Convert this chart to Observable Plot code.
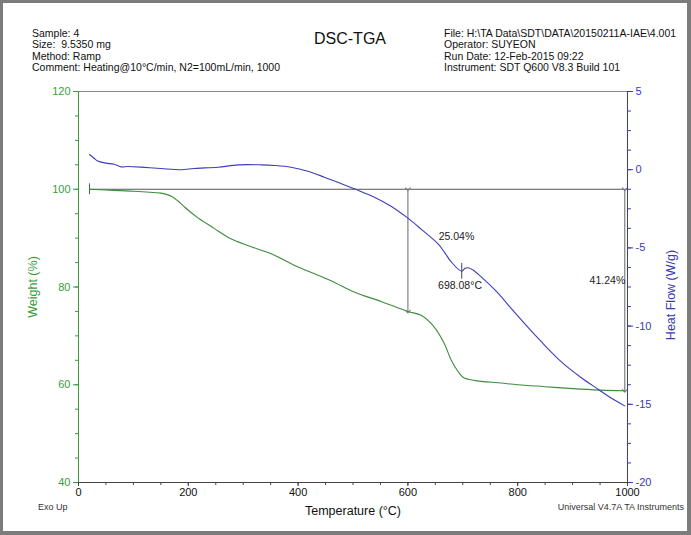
<!DOCTYPE html>
<html><head><meta charset="utf-8">
<script src="https://cdn.jsdelivr.net/npm/d3@7"></script>
<script src="https://cdn.jsdelivr.net/npm/@observablehq/plot@0.6"></script>
<style>
body{margin:0;background:#fff;}
#page{position:relative;width:691px;height:535px;font-family:Arial,"Liberation Sans",sans-serif;overflow:hidden;background:#fff;}
#frame{position:absolute;left:0;top:0;width:691px;height:535px;box-sizing:border-box;border:3px solid #7c7c7c;border-right-width:4px;border-bottom-width:4px;pointer-events:none;}
.t{position:absolute;white-space:pre;color:#111;}
.hdr{font-size:10.5px;line-height:11.4px;}
.layer{position:absolute;left:0;top:0;}
</style></head>
<body><div id="page">
<div id="hdrL" class="t hdr" style="left:32px;top:28px;"></div>
<div id="hdrR" class="t hdr" style="left:444px;top:28px;"></div>
<div id="title" class="t" style="left:0;width:700px;text-align:center;top:30px;font-size:16px;"></div>
<div class="t" style="left:38px;top:502px;font-size:9px;color:#333;">Exo Up</div>
<div class="t" style="right:7px;top:502px;font-size:9px;color:#333;">Universal V4.7A TA Instruments</div>
<div id="p1" class="layer"></div>
<div id="p2" class="layer"></div>
<div id="frame"></div>
</div>
<script>
// ---- header text ----
const titleText = "DSC-TGA";
const headerLeft = ["Sample: 4", "Size:  9.5350 mg", "Method: Ramp", "Comment: Heating@10°C/min, N2=100mL/min, 1000"];
const headerRight = ["File: H:\\TA Data\\SDT\\DATA\\20150211A-IAE\\4.001", "Operator: SUYEON", "Run Date: 12-Feb-2015 09:22", "Instrument: SDT Q600 V8.3 Build 101"];

// ---- TGA weight curve (Weight %, left axis) ----
const tempW  = [20, 50, 100, 150, 160, 170, 180, 190, 200, 217, 247, 272, 308, 351, 400, 460, 502, 552, 600, 624, 648, 666, 679, 692, 701, 721, 770, 800, 850, 900, 950, 995];
const weight = [100, 99.85, 99.6, 99.2, 98.95, 98.5, 97.7, 96.7, 95.7, 94.2, 92.0, 90.2, 88.5, 86.8, 84.1, 81.3, 79.0, 77.0, 75.0, 74.2, 71.8, 68.5, 65.0, 62.6, 61.5, 60.9, 60.35, 60.0, 59.6, 59.2, 58.9, 58.76];

// ---- DSC heat flow curve (W/g, right axis) ----
const tempH = [20, 28, 35, 50, 65, 78, 90, 120, 150, 187, 211, 254, 291, 333, 357, 387, 418, 448, 479, 506, 539, 570, 600, 624, 655, 667, 679, 698, 704, 710, 720, 734, 765, 794, 843, 880, 916, 947, 970, 995];
const heat  = [0.97, 0.75, 0.55, 0.42, 0.35, 0.18, 0.2, 0.15, 0.08, 0.0, 0.08, 0.16, 0.31, 0.31, 0.27, 0.16, -0.1, -0.48, -0.9, -1.27, -1.76, -2.35, -3.1, -3.8, -4.75, -5.3, -5.9, -6.49, -6.3, -6.27, -6.45, -6.87, -7.92, -9.11, -11.0, -12.3, -13.3, -14.05, -14.6, -15.1];

// ---- annotations ----
const lossTemps = [600, 995];
const lossPct = [25.04, 41.24];
const peakTemp = 698.08;

// ---- axis ticks ----
const xMajor = [0, 200, 400, 600, 800, 1000];
const xMinor = d3.range(0, 1001, 50);
const wMajor = [40, 60, 80, 100, 120];
const wMinor = d3.range(40, 121, 5);
const hMajor = [-20, -15, -10, -5, 0, 5];
const hMinor = d3.range(-20, 5.01, 1.25);

const GREEN_AX = "#3c9c3c", GREEN = "#3f8c3f";
const BLUE_AX = "#3a3ab4", BLUE = "#3d3dbd";

document.getElementById("hdrL").textContent = headerLeft.join("\n");
document.getElementById("hdrR").textContent = headerRight.join("\n");
document.getElementById("title").textContent = titleText;

const dims = {width: 691, height: 535, marginLeft: 78, marginRight: 64, marginTop: 91, marginBottom: 53};
const wData = tempW.map((t, i) => ({t, v: weight[i]}));
const hData = tempH.map((t, i) => ({t, v: heat[i]}));
const losses = lossTemps.map((t, i) => ({t, pct: lossPct[i], from: 100, to: 100 - lossPct[i]}));

const p1 = Plot.plot({
  ...dims,
  style: {background: "transparent", fontFamily: "Arial, 'Liberation Sans', sans-serif", overflow: "visible"},
  x: {domain: [0, 1000]},
  y: {domain: [40, 120]},
  marks: [
    Plot.ruleY([120], {stroke: "#8a8a8a"}),
    Plot.ruleY([40], {stroke: "#444"}),
    Plot.ruleX([0], {stroke: GREEN_AX}),
    Plot.axisY({ticks: wMinor, tickSize: 3, tickFormat: () => "", stroke: GREEN_AX, label: null}),
    Plot.axisY({ticks: wMajor, tickSize: 5, tickPadding: 3, fontSize: 11, stroke: GREEN_AX, fill: GREEN_AX, tickFormat: d => String(d), label: null}),
    Plot.axisX({ticks: xMinor, tickSize: 3, tickFormat: () => "", stroke: "#444", label: null}),
    Plot.axisX({ticks: xMajor, tickSize: 4, tickPadding: 2, fontSize: 11, stroke: "#444", fill: "#111", tickFormat: d => String(d), label: null}),
    Plot.ruleY([100], {x1: tempW[0], x2: 1000, stroke: "#555"}),
    Plot.ruleX([tempW[0]], {y1: 98.9, y2: 101.1, stroke: "#555"}),
    Plot.link(losses, {x1: "t", x2: "t", y1: "from", y2: "to", stroke: "#808080", strokeWidth: 1.2, markerStart: "arrow", markerEnd: "arrow"}),
    Plot.line(wData, {x: "t", y: "v", stroke: GREEN, strokeWidth: 1.1, curve: "catmull-rom"}),
    Plot.text(losses, {x: d => d.t === 600 ? 656 : 931, y: d => d.t === 600 ? 90.4 : 81.3, text: d => d.pct.toFixed(2) + "%", textAnchor: "start", fontSize: 10.5, fill: "#222"}),
    Plot.text(["Weight (%)"], {frameAnchor: "left", dx: -46, rotate: -90, textAnchor: "middle", fontSize: 12.5, fill: GREEN_AX}),
    Plot.text(["Temperature (°C)"], {frameAnchor: "bottom", dy: 32, textAnchor: "middle", fontSize: 12.5, fill: "#111"})
  ]
});
document.getElementById("p1").appendChild(p1);

const p2 = Plot.plot({
  ...dims,
  style: {background: "transparent", fontFamily: "Arial, 'Liberation Sans', sans-serif", overflow: "visible"},
  x: {domain: [0, 1000], axis: null},
  y: {domain: [-20, 5]},
  marks: [
    Plot.ruleX([1000], {stroke: BLUE_AX}),
    Plot.axisY({anchor: "right", ticks: hMinor, tickSize: 3, tickFormat: () => "", stroke: BLUE_AX, label: null}),
    Plot.axisY({anchor: "right", ticks: hMajor, tickSize: 5, tickPadding: 3, fontSize: 11, stroke: BLUE_AX, fill: BLUE_AX, tickFormat: d => String(d), label: null}),
    Plot.line(hData, {x: "t", y: "v", stroke: BLUE, strokeWidth: 1.1, curve: "catmull-rom"}),
    Plot.ruleX([peakTemp], {y1: -6.0, y2: -7.0, stroke: "#444"}),
    Plot.text([peakTemp], {x: 655, y: -7.4, text: d => d.toFixed(2) + "°C", textAnchor: "start", fontSize: 10.5, fill: "#222"}),
    Plot.text(["Heat Flow (W/g)"], {frameAnchor: "right", dx: 43, dy: 8, rotate: -90, textAnchor: "middle", fontSize: 12.5, fill: BLUE_AX})
  ]
});
document.getElementById("p2").appendChild(p2);
</script>
</body></html>
